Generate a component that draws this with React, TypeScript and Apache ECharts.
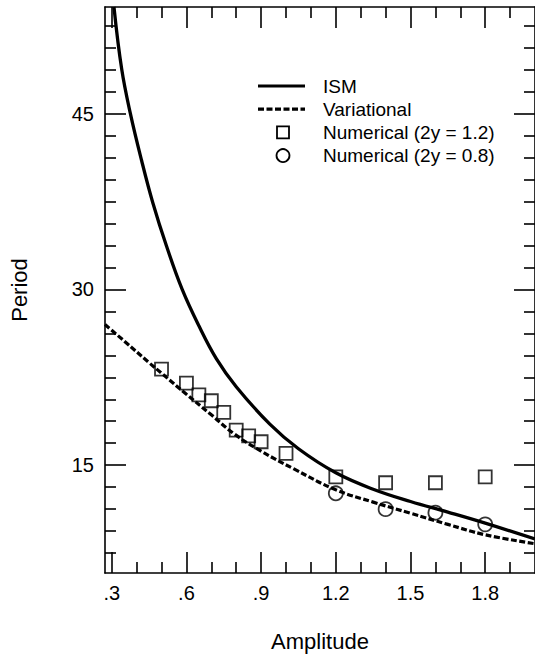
import React, { useEffect, useRef } from 'react';
import * as echarts from 'echarts';

// ---- axis ranges & ticks ----
const X_MIN = 0.273;
const X_MAX = 2.0;
const Y_MIN = 5.8;
const Y_MAX = 54.1;

const xMajorTicks = [0.3, 0.6, 0.9, 1.2, 1.5, 1.8];
const xTickLabels = ['.3', '.6', '.9', '1.2', '1.5', '1.8'];
const xMinorTicks = [0.4, 0.5, 0.7, 0.8, 1.0, 1.1, 1.3, 1.4, 1.6, 1.7, 1.9];

const yMajorTicks = [15, 30, 45];
const yTickLabels = ['15', '30', '45'];
const yMinorTicks = [
  7.5, 9.375, 11.25, 13.125, 16.875, 18.75, 20.625, 22.5, 24.375, 26.25, 28.125,
  31.875, 33.75, 35.625, 37.5, 39.375, 41.25, 43.125, 46.875, 48.75, 50.625, 52.5,
];

// ---- data ----
const ismCurve: [number, number][] = [
  [0.309, 54.1], [0.34, 48.8], [0.375, 45.0], [0.42, 41.0], [0.465, 37.4],
  [0.52, 33.7], [0.583, 30.0], [0.65, 26.9], [0.72, 24.1], [0.8, 21.7],
  [0.935, 18.5], [1.05, 16.4], [1.2, 14.35], [1.35, 12.95], [1.5, 11.9],
  [1.65, 11.0], [1.8, 10.06], [2.0, 8.7],
];

const variationalCurve: [number, number][] = [
  [0.273, 27.0], [0.35, 25.6], [0.45, 23.75], [0.5, 22.85], [0.6, 21.05],
  [0.7, 19.3], [0.79, 17.7], [0.9, 16.2], [1.03, 14.7], [1.2, 12.9],
  [1.35, 11.85], [1.5, 10.9], [1.65, 9.95], [1.8, 9.06], [2.0, 8.3],
];

const numericalSquares: [number, number][] = [
  [0.5, 23.2], [0.6, 22.0], [0.65, 21.0], [0.7, 20.5], [0.75, 19.5],
  [0.8, 18.0], [0.85, 17.5], [0.9, 17.0], [1.0, 16.0], [1.2, 14.0],
  [1.4, 13.5], [1.6, 13.5], [1.8, 14.0],
];

const numericalCircles: [number, number][] = [
  [1.2, 12.6], [1.4, 11.25], [1.6, 10.95], [1.8, 9.95],
];

const legendLabels = ['ISM', 'Variational', 'Numerical (2y = 1.2)', 'Numerical (2y = 0.8)'];

const FONT = "'Liberation Sans', Arial, Helvetica, sans-serif";
const BLACK = '#000000';

function labelFor(values: number[], labels: string[], v: number): string {
  const i = values.findIndex((t) => Math.abs(t - v) < 1e-6);
  return i >= 0 ? labels[i] : '';
}

export default function App() {
  const ref = useRef<HTMLDivElement>(null);

  useEffect(() => {
    if (!ref.current) return;
    const chart = echarts.init(ref.current, null, { renderer: 'svg' });

    const baseX = {
      type: 'value' as const,
      min: X_MIN,
      max: X_MAX,
      splitLine: { show: false },
    };
    const baseY = {
      type: 'value' as const,
      min: Y_MIN,
      max: Y_MAX,
      splitLine: { show: false },
    };
    const axisLine = { show: true, onZero: false, lineStyle: { color: BLACK, width: 1.6 } };
    const noLine = { show: false };
    const majorTick = (vals: number[]) => ({
      show: true,
      inside: true,
      length: 21,
      customValues: vals,
      lineStyle: { color: BLACK, width: 1.6 },
    });
    const minorTick = (vals: number[]) => ({
      show: true,
      inside: true,
      length: 11,
      customValues: vals,
      lineStyle: { color: BLACK, width: 1.6 },
    });

    const ly0 = 86;
    const lstep = 23.2;
    const legendGraphics: any[] = [
      {
        type: 'line',
        shape: { x1: 258, y1: ly0, x2: 305, y2: ly0 },
        style: { stroke: BLACK, lineWidth: 3.2 },
      },
      {
        type: 'line',
        shape: { x1: 258, y1: ly0 + lstep, x2: 305, y2: ly0 + lstep },
        style: { stroke: BLACK, lineWidth: 3.2, lineDash: [6, 2.5] },
      },
      {
        type: 'rect',
        shape: { x: 277, y: ly0 + 2 * lstep - 6, width: 12, height: 12 },
        style: { stroke: BLACK, lineWidth: 1.8, fill: 'none' },
      },
      {
        type: 'circle',
        shape: { cx: 283, cy: ly0 + 3 * lstep, r: 6.5 },
        style: { stroke: BLACK, lineWidth: 1.8, fill: 'none' },
      },
      ...legendLabels.map((t, i) => ({
        type: 'text',
        x: 323,
        y: ly0 + i * lstep,
        style: {
          text: t,
          fill: BLACK,
          font: `19px ${FONT}`,
          verticalAlign: 'middle',
          align: 'left',
        },
      })),
    ];

    chart.setOption({
      animation: false,
      backgroundColor: '#ffffff',
      grid: { left: 104, top: 7, right: -2, bottom: 86, containLabel: false },
      xAxis: [
        {
          ...baseX,
          position: 'bottom',
          axisLine,
          axisTick: majorTick(xMajorTicks),
          axisLabel: {
            show: true,
            customValues: xMajorTicks,
            formatter: (v: number) => labelFor(xMajorTicks, xTickLabels, v),
            margin: 10,
            color: BLACK,
            fontSize: 20,
            fontFamily: FONT,
          },
          name: 'Amplitude',
          nameLocation: 'middle',
          nameGap: 57,
          nameTextStyle: { color: BLACK, fontSize: 22, fontFamily: FONT },
        },
        {
          ...baseX,
          position: 'bottom',
          axisLine: noLine,
          axisTick: minorTick(xMinorTicks),
          axisLabel: { show: false },
        },
        {
          ...baseX,
          position: 'top',
          axisLine,
          axisTick: majorTick(xMajorTicks),
          axisLabel: { show: false },
        },
        {
          ...baseX,
          position: 'top',
          axisLine: noLine,
          axisTick: minorTick(xMinorTicks),
          axisLabel: { show: false },
        },
      ],
      yAxis: [
        {
          ...baseY,
          position: 'left',
          axisLine,
          axisTick: majorTick(yMajorTicks),
          axisLabel: {
            show: true,
            customValues: yMajorTicks,
            formatter: (v: number) => labelFor(yMajorTicks, yTickLabels, v),
            margin: 11,
            color: BLACK,
            fontSize: 20,
            fontFamily: FONT,
          },
          name: 'Period',
          nameLocation: 'middle',
          nameRotate: 90,
          nameGap: 75,
          nameTextStyle: { color: BLACK, fontSize: 22, fontFamily: FONT },
        },
        {
          ...baseY,
          position: 'left',
          axisLine: noLine,
          axisTick: minorTick(yMinorTicks),
          axisLabel: { show: false },
        },
        {
          ...baseY,
          position: 'right',
          axisLine,
          axisTick: majorTick(yMajorTicks),
          axisLabel: { show: false },
        },
        {
          ...baseY,
          position: 'right',
          axisLine: noLine,
          axisTick: minorTick(yMinorTicks),
          axisLabel: { show: false },
        },
      ],
      graphic: legendGraphics,
      series: [
        {
          name: legendLabels[0],
          type: 'line',
          data: ismCurve,
          xAxisIndex: 0,
          yAxisIndex: 0,
          smooth: 0.4,
          showSymbol: false,
          symbol: 'none',
          clip: true,
          lineStyle: { color: BLACK, width: 3.3 },
          z: 3,
        },
        {
          name: legendLabels[1],
          type: 'line',
          data: variationalCurve,
          xAxisIndex: 0,
          yAxisIndex: 0,
          smooth: 0.4,
          showSymbol: false,
          symbol: 'none',
          clip: true,
          lineStyle: { color: BLACK, width: 3.2, type: [6, 2.5] },
          z: 3,
        },
        {
          name: legendLabels[2],
          type: 'scatter',
          data: numericalSquares,
          xAxisIndex: 0,
          yAxisIndex: 0,
          symbol: 'rect',
          symbolSize: 13,
          itemStyle: { color: 'rgba(255,255,255,0)', borderColor: BLACK, borderWidth: 1.8 },
          z: 4,
        },
        {
          name: legendLabels[3],
          type: 'scatter',
          data: numericalCircles,
          xAxisIndex: 0,
          yAxisIndex: 0,
          symbol: 'circle',
          symbolSize: 14,
          itemStyle: { color: 'rgba(255,255,255,0)', borderColor: BLACK, borderWidth: 1.8 },
          z: 4,
        },
      ],
    });

    return () => chart.dispose();
  }, []);

  return (
    <div
      ref={ref}
      style={{ position: 'absolute', left: 0, top: 0, width: 535, height: 659, background: '#fff' }}
    />
  );
}
